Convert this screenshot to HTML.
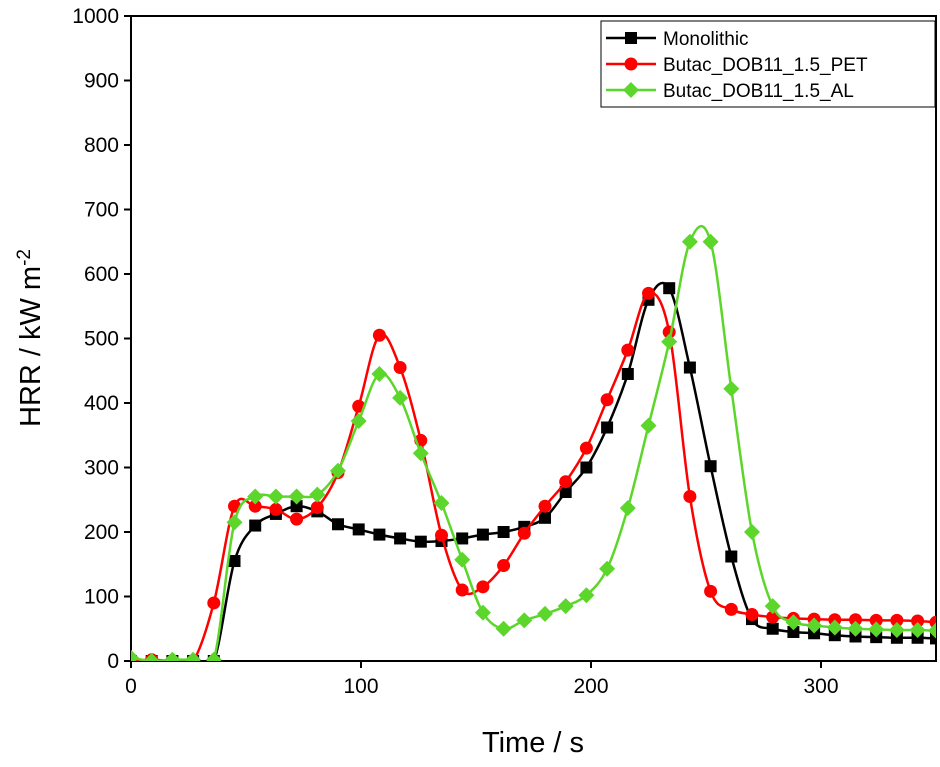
<!DOCTYPE html>
<html><head><meta charset="utf-8"><style>
body{margin:0;background:#fff;}
svg text{font-family:"Liberation Sans",Arial,sans-serif;}
</style></head><body>
<svg id="chart" width="940" height="762" viewBox="0 0 940 762" xmlns="http://www.w3.org/2000/svg">
<g id="plot"></g>
</svg>
<script>
const times = [0,9,18,27,36,45,54,63,72,81,90,99,108,117,126,135,144,153,162,171,180,189,198,207,216,225,234,243,252,261,270,279,288,297,306,315,324,333,342,350];
const monolithic = [0,0,0,0,0,155,210,228,240,232,212,204,196,190,185,186,190,196,200,208,222,262,300,362,445,560,578,455,302,162,65,50,45,43,40,38,37,36,36,35];
const pet = [0,2,0,0,90,240,240,235,220,238,292,395,505,455,342,195,110,115,148,198,240,278,330,405,482,570,510,255,108,80,72,68,66,65,64,64,63,63,62,60];
const al = [5,0,2,2,2,215,255,255,255,258,295,372,445,408,322,245,157,75,50,63,73,85,102,143,237,365,495,650,650,422,200,85,60,55,52,50,49,48,48,47];
const xTicks = [0,100,200,300];
const yTicks = [0,100,200,300,400,500,600,700,800,900,1000];
const seriesNames = ["Monolithic","Butac_DOB11_1.5_PET","Butac_DOB11_1.5_AL"];

const L=131,R=936,T=16,B=661;
const xs=t=>L+(t-0)/350*(R-L);
const ys=v=>B-v/1000*(B-T);
const NS="http://www.w3.org/2000/svg";
const g=document.getElementById('plot');
function mk(tag,attrs,parent){const e=document.createElementNS(NS,tag);for(const k in attrs)e.setAttribute(k,attrs[k]);(parent||g).appendChild(e);return e;}

// axes
const frame=mk('rect',{x:L,y:T,width:R-L,height:B-T,fill:'none',stroke:'#000','stroke-width':2});


xTicks.forEach(t=>{
  const ln=mk('line',{x1:xs(t),x2:xs(t),y1:B,y2:B+7,stroke:'#000','stroke-width':2});
  
  
  const tx=mk('text',{x:xs(t),y:B+32,'font-size':21,'text-anchor':'middle'});
  tx.textContent=t;
  
  
});
yTicks.forEach(v=>{
  const ln=mk('line',{x1:L-7,x2:L,y1:ys(v),y2:ys(v),stroke:'#000','stroke-width':2});
  
  
  const tx=mk('text',{x:L-12,y:ys(v)+7,'font-size':21,'text-anchor':'end'});
  tx.textContent=v;
  
  
});
const xt=mk('text',{x:533,y:752,'font-size':29,'text-anchor':'middle'});
xt.textContent='Time / s';


const yt=mk('text',{transform:'translate(40,338) rotate(-90)','font-size':29,'text-anchor':'middle'});
yt.innerHTML='HRR / kW m<tspan dy="-10" font-size="19">-2</tspan>';



function smoothPath(pts){
  let d=`M${pts[0][0]},${pts[0][1]}`;
  for(let i=0;i<pts.length-1;i++){
    const p0=pts[Math.max(0,i-1)],p1=pts[i],p2=pts[i+1],p3=pts[Math.min(pts.length-1,i+2)];
    const c1=[p1[0]+(p2[0]-p0[0])/6,p1[1]+(p2[1]-p0[1])/6];
    const c2=[p2[0]-(p3[0]-p1[0])/6,p2[1]-(p3[1]-p1[1])/6];
    d+=` C${c1[0]},${c1[1]} ${c2[0]},${c2[1]} ${p2[0]},${p2[1]}`;
  }
  return d;
}
function marker(type,x,y,color,parent){
  if(type==='square') return mk('rect',{x:x-6,y:y-6,width:12,height:12,fill:color},parent);
  if(type==='circle') return mk('circle',{cx:x,cy:y,r:6.5,fill:color},parent);
  return mk('polygon',{points:`${x},${y-8} ${x+8},${y} ${x},${y+8} ${x-8},${y}`,fill:color},parent);
}
const cp=mk('clipPath',{id:'clip'});mk('rect',{x:L,y:T,width:R-L,height:B-T},cp);
const series=[[monolithic,'#000','square','series-monolithic'],[pet,'#ff0000','circle','series-pet'],[al,'#5cd62a','diamond','series-al']];
series.forEach(([vals,color,type,name])=>{
  const sg=mk('g',{'clip-path':'url(#clip)'});
  
  
  const pts=times.map((t,i)=>[xs(t),ys(vals[i])]);
  const p=mk('path',{d:smoothPath(pts),fill:'none',stroke:color,'stroke-width':2.5},sg);
  
  
  pts.forEach(pt=>{
    const m=marker(type,pt[0],pt[1],color,sg);
    
    
  });
});
// legend
const lg=mk('g',{});


mk('rect',{x:601,y:21,width:334,height:86,fill:'#fff',stroke:'#000','stroke-width':1},lg);
series.forEach(([vals,color,type,name],i)=>{
  const y=38+i*26;
  const e=mk('g',{},lg);
  
  
  mk('line',{x1:606,x2:656,y1:y,y2:y,stroke:color,'stroke-width':2.5},e);
  marker(type,631,y,color,e);
  const t=mk('text',{x:663,y:y+7,'font-size':19},e);
  t.textContent=seriesNames[i];
});
</script>
</body></html>
